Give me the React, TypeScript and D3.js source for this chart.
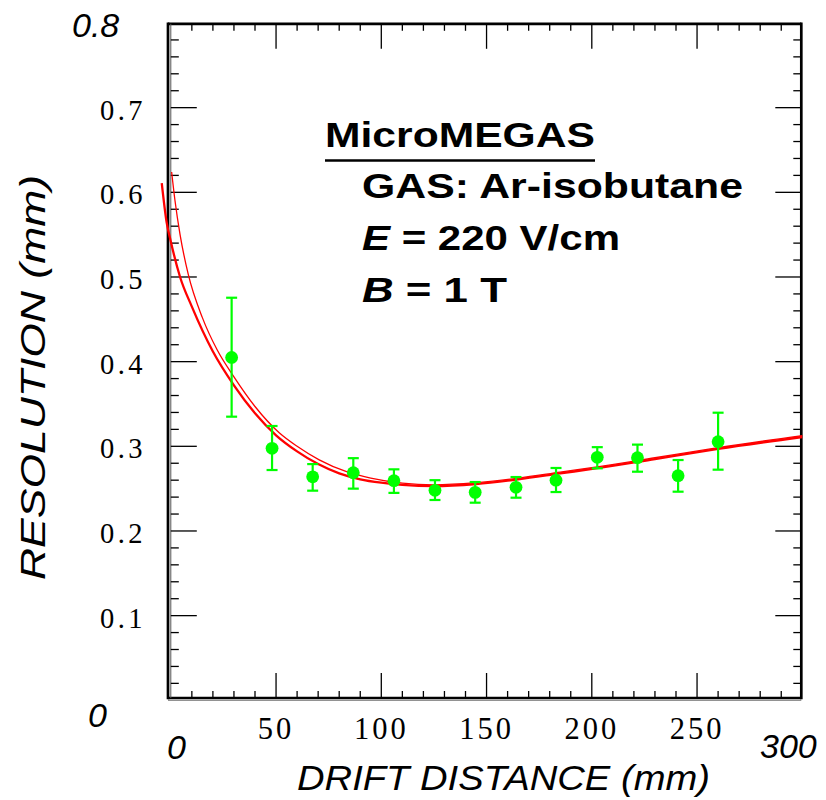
import React from "react";
import * as d3 from "d3";

// Measured points: drift distance (mm) and spatial resolution (mm)
const driftDistance = [28.9, 48.1, 67.4, 86.7, 106.0, 125.5, 144.6, 164.0, 183.0, 202.6, 221.7, 241.0, 260.0];
const resolution = [0.405, 0.2976, 0.264, 0.2688, 0.2594, 0.248, 0.2456, 0.2516, 0.260, 0.287, 0.2866, 0.2653, 0.3055];
const errorLow = [0.335, 0.272, 0.2476, 0.250, 0.245, 0.2366, 0.2334, 0.2393, 0.246, 0.274, 0.270, 0.2464, 0.2724];
const errorHigh = [0.4755, 0.324, 0.279, 0.286, 0.2728, 0.260, 0.2578, 0.2637, 0.2744, 0.299, 0.302, 0.2838, 0.3397];

// Fit curve 1 (thicker line)
const fitAx = [-4.3, -2, 0, 4.4, 10, 20, 30, 40, 50, 60, 70, 80, 90, 100, 110, 125, 145, 165, 185, 205, 230, 260, 300];
const fitAy = [0.611, 0.565, 0.542, 0.5, 0.465, 0.412, 0.372, 0.339, 0.313, 0.294, 0.279, 0.268, 0.261, 0.257, 0.2545, 0.253, 0.2555, 0.261, 0.268, 0.275, 0.285, 0.297, 0.311];

// Fit curve 2 (thinner line)
const fitBx = [0.4, 2, 4.4, 8.3, 15, 22, 30, 40, 51.5, 60, 70.5, 83.5, 95, 110, 125, 145, 165, 185, 205, 230, 260, 300];
const fitBy = [0.624, 0.59, 0.55, 0.503, 0.452, 0.414, 0.382, 0.347, 0.316, 0.3, 0.284, 0.27, 0.2625, 0.2565, 0.2545, 0.257, 0.2625, 0.2695, 0.2765, 0.2865, 0.2985, 0.3125];

const xTickLabels = [50, 100, 150, 200, 250];
const yTickLabels = [0.1, 0.2, 0.3, 0.4, 0.5, 0.6, 0.7];

const legendTitle = "MicroMEGAS";
const legendGas = "GAS: Ar-isobutane";
const legendField = "220 V/cm";
const legendB = "1 T";

const SANS = "'Liberation Sans', Arial, Helvetica, sans-serif";
const SERIF = "'Liberation Serif', 'Times New Roman', serif";
const GREEN = "#00ff00";
const RED = "#ff0000";

export default function App() {
  const W = 826;
  const H = 800;
  const x = d3.scaleLinear().domain([0, 300]).range([170.8, 802.3]);
  const y = d3.scaleLinear().domain([0, 0.8]).range([700.3, 23]);

  const frameL = 168;
  const frameR = 801.3;
  const frameT = 23.8;
  const frameB = 698;

  const xMinor = d3.range(10, 300, 10);
  const yMinor = d3.range(1, 40).map((i) => i * 0.02);
  const isMajorX = (v: number) => Math.abs(v % 50) < 1e-6;
  const isMajorY = (v: number) => Math.abs(Math.round(v * 10) - v * 10) < 1e-6;

  const lineGen = d3
    .line<[number, number]>()
    .x((d) => x(d[0]))
    .y((d) => y(d[1]))
    .curve(d3.curveMonotoneX);

  const fitA = lineGen(fitAx.map((v, i) => [v, fitAy[i]] as [number, number])) || "";
  const fitB = lineGen(fitBx.map((v, i) => [v, fitBy[i]] as [number, number])) || "";

  const axisLabelX0 = x(0);
  const ticks: React.ReactNode[] = [];
  xMinor.forEach((v) => {
    const len = isMajorX(v) ? 25 : 7;
    const px = x(v);
    ticks.push(<line key={`xb${v}`} x1={px} x2={px} y1={frameB} y2={frameB - len} stroke="#000" strokeWidth={1.3} />);
    ticks.push(<line key={`xt${v}`} x1={px} x2={px} y1={frameT} y2={frameT + len} stroke="#000" strokeWidth={1.3} />);
  });
  yMinor.forEach((v) => {
    const len = isMajorY(v) ? 26 : 8;
    const py = y(v);
    ticks.push(<line key={`yl${v}`} x1={axisLabelX0} x2={axisLabelX0 + len} y1={py} y2={py} stroke="#000" strokeWidth={1.3} />);
    ticks.push(<line key={`yr${v}`} x1={frameR} x2={frameR - len} y1={py} y2={py} stroke="#000" strokeWidth={1.3} />);
  });

  return (
    <svg
      width={W}
      height={H}
      viewBox={`0 0 ${W} ${H}`}
      style={{ position: "absolute", left: 0, top: 0, background: "#fff" }}
    >
      <rect x={0} y={0} width={W} height={H} fill="#fff" />

      {/* frame */}
      <line x1={frameL} x2={frameL} y1={frameT - 1.3} y2={frameB + 1.3} stroke="#000" strokeWidth={2.7} />
      <line x1={frameR} x2={frameR} y1={frameT - 1.3} y2={frameB + 1.3} stroke="#000" strokeWidth={2.7} />
      <line x1={frameL} x2={frameR} y1={frameT} y2={frameT} stroke="#000" strokeWidth={2.7} />
      <line x1={frameL} x2={frameR} y1={frameB} y2={frameB} stroke="#000" strokeWidth={2.7} />
      <line x1={x(0)} x2={x(0)} y1={frameT} y2={frameB} stroke="#555" strokeWidth={1} />
      <line x1={frameL} x2={frameR} y1={y(0)} y2={y(0)} stroke="#777" strokeWidth={1} />
      {ticks}

      {/* y tick labels */}
      {yTickLabels.map((v) => (
        <text
          key={`yl${v}`}
          x={146}
          y={y(v) + 12}
          textAnchor="end"
          fontFamily={SERIF}
          fontSize={28.5}
          letterSpacing={3.5}
          fill="#000"
        >
          {v.toFixed(1)}
        </text>
      ))}
      {/* x tick labels */}
      {xTickLabels.map((v) => (
        <text
          key={`xl${v}`}
          x={x(v)}
          y={739}
          textAnchor="middle"
          fontFamily={SERIF}
          fontSize={30.5}
          letterSpacing={3}
          fill="#000"
        >
          {v}
        </text>
      ))}

      {/* axis range labels */}
      <text x={72} y={37} fontFamily={SANS} fontStyle="italic" fontSize={34} fill="#000">0.8</text>
      <text x={88} y={727} fontFamily={SANS} fontStyle="italic" fontSize={34} fill="#000">0</text>
      <text x={167} y={759} fontFamily={SANS} fontStyle="italic" fontSize={34} fill="#000">0</text>
      <text x={760} y={758} fontFamily={SANS} fontStyle="italic" fontSize={34} fill="#000">300</text>

      {/* axis titles */}
      <text
        x={297}
        y={790}
        fontFamily={SANS}
        fontStyle="italic"
        fontSize={35}
        textLength={413}
        lengthAdjust="spacingAndGlyphs"
        fill="#000"
      >
        DRIFT DISTANCE (mm)
      </text>
      <text
        transform="translate(45,580) rotate(-90)"
        fontFamily={SANS}
        fontStyle="italic"
        fontSize={35}
        textLength={405}
        lengthAdjust="spacingAndGlyphs"
        fill="#000"
      >
        RESOLUTION (mm)
      </text>

      {/* fit curves */}
      <path d={fitA} fill="none" stroke={RED} strokeWidth={2.3} />
      <path d={fitB} fill="none" stroke={RED} strokeWidth={1.3} />

      {/* data with error bars */}
      {driftDistance.map((d, i) => {
        const px = x(d);
        return (
          <g key={`pt${i}`}>
            <line x1={px} x2={px} y1={y(errorLow[i])} y2={y(errorHigh[i])} stroke={GREEN} strokeWidth={2.2} />
            <line x1={px - 5.5} x2={px + 5.5} y1={y(errorLow[i])} y2={y(errorLow[i])} stroke={GREEN} strokeWidth={2.2} />
            <line x1={px - 5.5} x2={px + 5.5} y1={y(errorHigh[i])} y2={y(errorHigh[i])} stroke={GREEN} strokeWidth={2.2} />
            <circle cx={px} cy={y(resolution[i])} r={6.4} fill={GREEN} />
          </g>
        );
      })}

      {/* legend */}
      <text x={325} y={146.7} fontFamily={SANS} fontWeight="bold" fontSize={35} textLength={270} lengthAdjust="spacingAndGlyphs" fill="#000">
        {legendTitle}
      </text>
      <line x1={325} x2={595} y1={160.5} y2={160.5} stroke="#000" strokeWidth={2.6} />
      <text x={362} y={198.3} fontFamily={SANS} fontWeight="bold" fontSize={35} textLength={381} lengthAdjust="spacingAndGlyphs" fill="#000">
        {legendGas}
      </text>
      <text x={362} y={250} fontFamily={SANS} fontWeight="bold" fontSize={35} textLength={258} lengthAdjust="spacingAndGlyphs" fill="#000">
        <tspan fontStyle="italic">E</tspan>
        <tspan>{` = ${legendField}`}</tspan>
      </text>
      <text x={362} y={301.7} fontFamily={SANS} fontWeight="bold" fontSize={35} textLength={145} lengthAdjust="spacingAndGlyphs" fill="#000">
        <tspan fontStyle="italic">B</tspan>
        <tspan>{` = ${legendB}`}</tspan>
      </text>
    </svg>
  );
}
